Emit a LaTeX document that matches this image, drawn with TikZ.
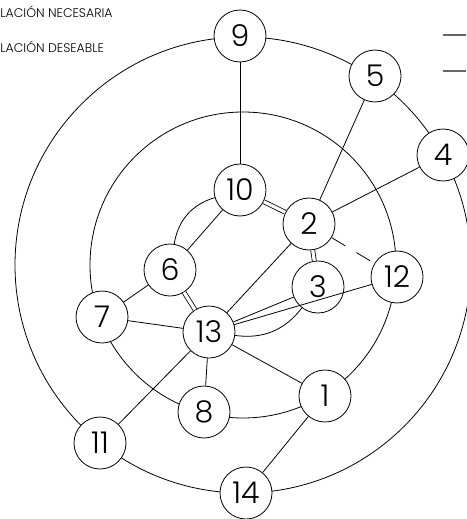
\documentclass[tikz,border=0pt]{standalone}
\usepackage{fontspec}
\setmainfont{Poppins}[UprightFont=* Light]
\begin{document}
\begin{tikzpicture}[x=1pt,y=-1pt, line width=0.8pt,
  nd/.style={circle, draw, fill=white, minimum size=52pt, inner sep=0pt, font=\fontsize{30}{30}\selectfont},
  dbl/.style={double, double distance=3.2pt, line width=0.8pt},
  legtext/.style={anchor=west, inner sep=0pt, font=\fontsize{12.5}{12.5}\selectfont},
  legline/.style={line width=1.5pt, gray!80!black}]
\useasboundingbox (0,0) rectangle (466,519);
% circles
\draw (243,265) circle[radius=228pt];
\draw (243,265) circle[radius=153pt];
% nodes
\node[nd] (n9) at (240,36) {9};
\node[nd] (n5) at (375,76) {5};
\node[nd] (n4) at (443,155) {4};
\node[nd] (n10) at (240,190) {10};
\node[nd] (n2) at (309,224) {2};
\node[nd] (n12) at (397,277) {12};
\node[nd] (n3) at (318,287) {3};
\node[nd] (n6) at (170,270) {6};
\node[nd] (n7) at (102,317) {7};
\node[nd] (n13) at (209,332) {13};
\node[nd] (n1) at (325,396) {1};
\node[nd] (n8) at (204,412) {8};
\node[nd] (n11) at (100,443) {11};
\node[nd] (n14) at (246,493) {14};
% edges
\draw (n9) -- (n10);
\draw (n5) -- (n2);
\draw (n4) -- (n2);
\draw (n2) -- (n13);
\draw (n6) -- (n10);
\draw (n6) -- (n7);
\draw (n7) -- (n13);
\draw (n13) -- (n8);
\draw (n13) -- (n1);
\draw (n13) -- (n11);
\draw (n1) -- (n14);
\draw (n13) -- (n12);
\draw (n13) -- (n3);
\draw (n6) to[bend left=32] (n10);
\draw (n3) to[bend left=30] (n13);
\draw[dbl] (n10) -- (n2);
\draw[dbl] (n2) -- (n3);
\draw[dbl] (n6) -- (n13);
\draw[dash pattern=on 16pt off 13pt] (n2) -- (n12);
% legend
\node[legtext] (l1) at (0,12) {LACIÓN NECESARIA};
\node[legtext] (l2) at (0,47) {LACIÓN DESEABLE};
\draw[legline] (443,35) -- (466,35);
\draw[legline] (443,71) -- (466,71);
\end{tikzpicture}
\end{document}
